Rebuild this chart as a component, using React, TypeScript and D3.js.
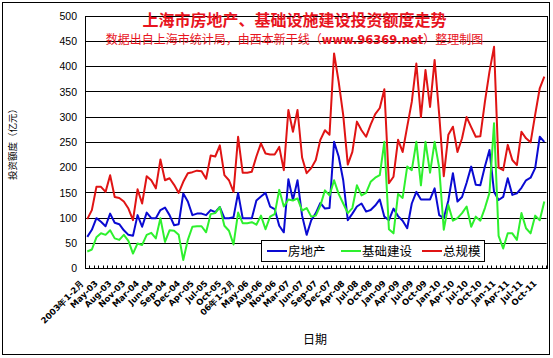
import React from "react";
import * as d3 from "d3";

// 投资额度（亿元），2003年1-2月 ~ 2011年11月
const realEstate = [
  63, 77, 100, 93, 84, 109, 91, 88, 76, 67,
  65, 106, 83, 111, 100, 100, 116, 121, 106, 86,
  88, 149, 133, 106, 109, 109, 106, 116, 112, 122,
  100, 100, 102, 150, 100, 100, 100, 135, 143, 150,
  123, 118, 85, 72, 177, 136, 175, 105, 67, 96,
  110, 130, 119, 120, 251, 222, 175, 96, 109, 123,
  129, 113, 116, 125, 137, 103, 96, 119, 104, 95,
  80, 129, 152, 137, 137, 137, 159, 106, 100, 135,
  189, 133, 142, 170, 202, 166, 165, 202, 235, 152,
  136, 142, 179, 146, 149, 160, 175, 180, 199, 261,
  251,
];

const infrastructure = [
  34, 38, 62, 70, 67, 76, 60, 57, 67, 55,
  30, 50, 47, 67, 71, 60, 100, 53, 76, 75,
  67, 17, 57, 83, 84, 84, 72, 108, 110, 122,
  85, 75, 48, 111, 90, 90, 92, 87, 105, 78,
  103, 108, 156, 123, 137, 135, 139, 115, 120, 103,
  105, 125, 155, 145, 175, 148, 129, 110, 120, 165,
  145, 150, 172, 180, 185, 251, 78, 70, 148, 140,
  202, 195, 251, 165, 251, 190, 251, 200, 77, 126,
  95, 100, 110, 123, 83, 103, 95, 120, 150, 288,
  65, 40, 70, 70, 57, 110, 80, 70, 105, 96,
  133,
];

const total = [
  98, 116, 162, 162, 152, 185, 142, 140, 133, 119,
  96, 157, 129, 183, 175, 159, 216, 175, 179, 166,
  150, 172, 189, 191, 194, 193, 178, 224, 222, 244,
  185, 175, 152, 261, 190, 190, 192, 222, 248, 228,
  226, 226, 241, 195, 314, 271, 314, 220, 189, 199,
  215, 255, 274, 265, 426, 370, 304, 206, 231, 291,
  274, 261, 285, 306, 318, 355, 169, 182, 255, 231,
  281, 330, 406, 300, 393, 320, 413, 305, 183, 265,
  281, 231, 258, 300, 280, 261, 262, 330, 390, 439,
  200, 195, 245, 215, 205, 271, 258, 250, 305, 357,
  380,
];

// every third category gets a label
const tickLabels = [
  "2003年1-2月", "May-03", "Aug-03", "Nov-03", "Mar-04", "Jun-04", "Sep-04",
  "Dec-04", "Apr-05", "Jul-05", "Oct-05", "06年1-2月", "May-06", "Aug-06",
  "Nov-06", "Mar-07", "Jun-07", "Sep-07", "Dec-07", "Apr-08", "Jul-08",
  "Oct-08", "Jan-09", "Apr-09", "Jul-09", "Oct-09", "Jan-10", "Apr-10",
  "Jul-10", "Oct-10", "Jan-11", "Apr-11", "Jul-11", "Oct-11",
];

const series = [
  { name: "房地产", values: realEstate, color: "#0a0ad2" },
  { name: "基础建设", values: infrastructure, color: "#2ef02e" },
  { name: "总规模", values: total, color: "#e01414" },
];

const W = 553;
const H = 358;
const plot = { left: 85, right: 546.6, top: 16, bottom: 268.7 };

const App = () => {
  const idx = d3.range(total.length);

  const x = d3
    .scaleBand<number>()
    .domain(idx)
    .range([plot.left, plot.right])
    .padding(0);
  const cx = (i: number) => (x(i) as number) + x.bandwidth() / 2;

  const y = d3.scaleLinear().domain([0, 500]).range([plot.bottom, plot.top]);

  const line = (vals: number[]) =>
    d3
      .line<number>()
      .x((_, i) => cx(i))
      .y((d) => y(d))(vals) as string;

  const crisp = (v: number) => Math.floor(v) + 0.5;
  const yTicks = y.ticks(10);
  const axisY = crisp(plot.bottom);

  // legend layout
  const legendX = 261.5;
  const legendY = 240.5;
  const legendItems = [267, 341, 422];

  return (
    <svg
      width={W}
      height={H}
      style={{ position: "absolute", left: 0, top: 0, background: "#fff" }}
      fontFamily="'Liberation Sans', Arial, sans-serif"
    >
      <rect x={2.5} y={2.5} width={547} height={352} fill="#fff" stroke="#000" />

      {/* gridlines */}
      {yTicks.map((t) => (
        <line
          key={t}
          x1={plot.left}
          x2={plot.right}
          y1={crisp(y(t))}
          y2={crisp(y(t))}
          stroke="#000"
          strokeWidth={1}
        />
      ))}

      {/* plot border */}
      <rect
        x={crisp(plot.left)}
        y={crisp(plot.top)}
        width={Math.round(plot.right - plot.left)}
        height={Math.floor(plot.bottom) - Math.floor(plot.top)}
        fill="none"
        stroke="#000"
      />

      {/* y axis labels */}
      {yTicks.map((t) => (
        <text
          key={t}
          x={77}
          y={y(t)}
          dy="0.36em"
          textAnchor="end"
          fontSize={10.5}
        >
          {t}
        </text>
      ))}

      {/* x ticks */}
      {d3.range(total.length + 1).map((i) => {
        const xx = crisp(i < total.length ? (x(i) as number) : plot.right);
        return (
          <line key={i} x1={xx} x2={xx} y1={axisY - 3} y2={axisY} stroke="#000" />
        );
      })}

      {/* x labels */}
      {tickLabels.map((lab, k) => {
        const i = k * 3;
        return (
          <text
            key={lab}
            transform={`translate(${cx(i) - 2.5},${284}) rotate(-45)`}
            textAnchor="end"
            fontSize={8.5}
            fontWeight="bold"
            fontFamily="'DejaVu Sans', sans-serif"
          >
            {lab}
          </text>
        );
      })}

      {/* series */}
      {series.map((s) => (
        <path
          key={s.name}
          d={line(s.values)}
          fill="none"
          stroke={s.color}
          strokeWidth={2}
          strokeLinejoin="round"
        />
      ))}

      {/* legend */}
      <rect x={legendX} y={legendY} width={223} height={21} fill="#fff" stroke="#000" />
      {series.map((s, k) => (
        <g key={s.name}>
          <line
            x1={legendItems[k]}
            x2={legendItems[k] + 20}
            y1={251}
            y2={251}
            stroke={s.color}
            strokeWidth={2}
          />
          <text
            x={legendItems[k] + 21}
            y={251}
            dy="0.36em"
            fontSize={12.5}
            fontFamily="'Noto Sans CJK SC', sans-serif"
          >
            {s.name}
          </text>
        </g>
      ))}

      {/* titles */}
      <text
        x={294.5}
        y={20}
        dy="0.36em"
        textAnchor="middle"
        fontSize={16}
        fontWeight="bold"
        fill="#e8141e"
        fontFamily="'Noto Sans CJK SC', sans-serif"
      >
        上海市房地产、基础设施建设投资额度走势
      </text>
      <text
        x={294.5}
        y={39.5}
        dy="0.36em"
        textAnchor="middle"
        fontSize={12}
        fill="#e8141e"
        fontFamily="'Noto Sans CJK SC', sans-serif"
      >
        数据出自上海市统计局，由西本新干线（
        <tspan fontWeight="bold" fontFamily="'DejaVu Sans', sans-serif" fontSize={11.5}>
          www.96369.net
        </tspan>
        ）整理制图
      </text>

      {/* axis titles */}
      <text
        transform="translate(13,142) rotate(-90)"
        textAnchor="middle"
        dy="0.36em"
        fontSize={9.5}
        fontFamily="'Noto Sans CJK SC', sans-serif"
      >
        投资额度（亿元）
      </text>
      <text
        x={315}
        y={340}
        dy="0.36em"
        textAnchor="middle"
        fontSize={12}
        fontFamily="'Noto Sans CJK SC', sans-serif"
      >
        日期
      </text>
    </svg>
  );
};

export default App;
